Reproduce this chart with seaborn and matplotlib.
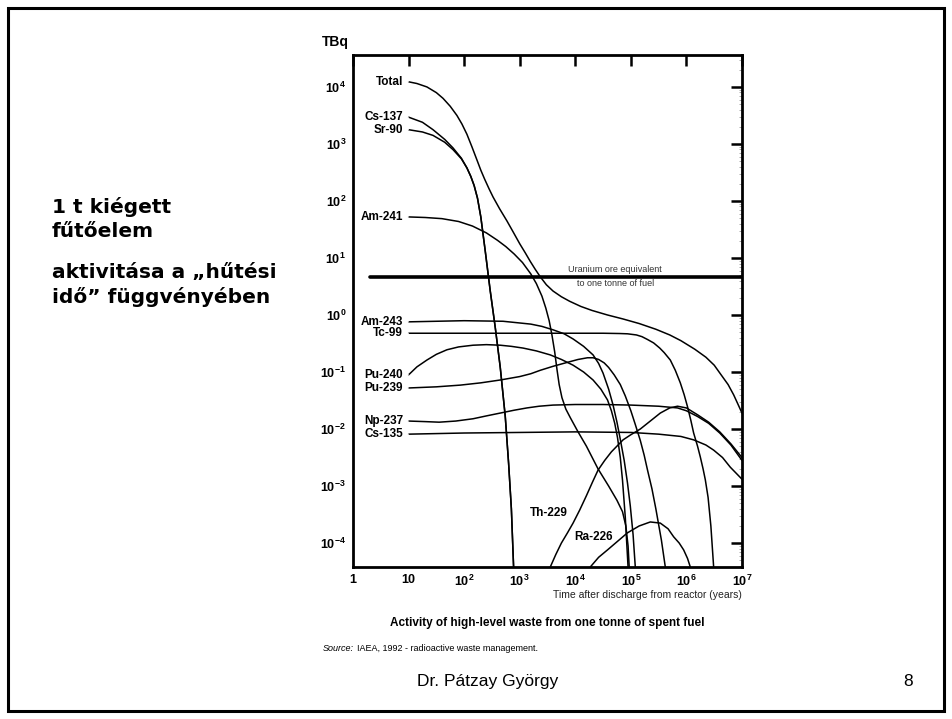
import matplotlib

matplotlib.use("Agg")
import matplotlib.pyplot as plt
import numpy as np
import pandas as pd
import seaborn as sns
from matplotlib.patches import Rectangle
from matplotlib.ticker import FixedLocator, LogLocator, NullLocator

# Values as log10(years) / log10(TBq)
total_lt = [1.0, 1.15, 1.33, 1.5, 1.62, 1.75, 1.87, 1.96, 2.05, 2.14, 2.23, 2.3, 2.37, 2.45, 2.52, 2.64,
            2.77, 2.88, 3.0, 3.1, 3.19, 3.28, 3.37, 3.48, 3.6, 3.75, 3.9, 4.1, 4.3, 4.58, 4.86, 5.15,
            5.45, 5.7, 5.9, 6.15, 6.35, 6.5, 6.61, 6.75, 6.85, 6.93, 7.0]
total_la = [4.09, 4.06, 4.0, 3.9, 3.8, 3.66, 3.5, 3.35, 3.17, 2.95, 2.72, 2.54, 2.38, 2.21, 2.07, 1.86,
            1.65, 1.46, 1.25, 1.09, 0.94, 0.8, 0.67, 0.53, 0.42, 0.32, 0.24, 0.15, 0.08, 0.0, -0.07, -0.15,
            -0.25, -0.35, -0.45, -0.6, -0.74, -0.88, -1.03, -1.22, -1.4, -1.57, -1.72]

cs137_lt = [1.0, 1.25, 1.44, 1.65, 1.8, 1.95, 2.05, 2.12, 2.18, 2.24, 2.3, 2.38, 2.47, 2.56, 2.65, 2.74, 2.8, 2.85, 2.89]
cs137_la = [3.47, 3.38, 3.25, 3.08, 2.93, 2.75, 2.58, 2.43, 2.27, 2.05, 1.72, 1.12, 0.42, -0.22, -0.92, -1.78, -2.6, -3.4, -4.42]

sr90_lt = [1.0, 1.25, 1.44, 1.65, 1.8, 1.95, 2.05, 2.12, 2.18, 2.24, 2.3, 2.38, 2.47, 2.56, 2.65, 2.74, 2.8, 2.85, 2.89]
sr90_la = [3.25, 3.21, 3.15, 3.03, 2.9, 2.74, 2.58, 2.43, 2.27, 2.05, 1.72, 1.12, 0.42, -0.22, -0.92, -1.78, -2.6, -3.4, -4.42]

am241_lt = [1.0, 1.3, 1.6, 1.9, 2.15, 2.4, 2.6, 2.75, 2.9, 3.05, 3.2, 3.3, 3.4, 3.47, 3.53, 3.58, 3.63, 3.67,
            3.71, 3.76, 3.83, 3.91, 4.05, 4.2, 4.41, 4.6, 4.75, 4.85, 4.91, 4.95, 4.97]
am241_la = [1.72, 1.71, 1.69, 1.64, 1.56, 1.44, 1.31, 1.2, 1.07, 0.92, 0.72, 0.55, 0.33, 0.12, -0.1, -0.35, -0.65, -0.95,
            -1.22, -1.45, -1.65, -1.8, -2.05, -2.3, -2.7, -3.0, -3.25, -3.45, -3.7, -4.05, -4.42]

am243_lt = [1.0, 2.0, 2.7, 3.2, 3.4, 3.6, 3.8, 3.96, 4.15, 4.32, 4.42, 4.5, 4.6, 4.68, 4.75, 4.81, 4.88, 4.94, 4.99, 5.04, 5.08]
am243_la = [-0.12, -0.1, -0.11, -0.16, -0.2, -0.26, -0.33, -0.42, -0.55, -0.7, -0.85, -1.02, -1.3, -1.58, -1.88, -2.18,
            -2.55, -2.95, -3.35, -3.85, -4.42]

tc99_lt = [1.0, 3.0, 4.5, 4.8, 4.94, 5.1, 5.2, 5.3, 5.41, 5.52, 5.6, 5.71, 5.8, 5.89, 5.96, 6.02, 6.08, 6.13, 6.2,
           6.25, 6.3, 6.34, 6.39, 6.44, 6.49]
tc99_la = [-0.32, -0.32, -0.32, -0.325, -0.33, -0.35, -0.38, -0.43, -0.49, -0.58, -0.66, -0.79, -0.97, -1.19, -1.4,
           -1.61, -1.85, -2.07, -2.3, -2.49, -2.7, -2.89, -3.2, -3.7, -4.42]

pu240_lt = [1.0, 1.15, 1.33, 1.5, 1.69, 1.9, 2.16, 2.4, 2.65, 2.85, 3.06, 3.3, 3.55, 3.75, 3.96, 4.15, 4.32, 4.46,
            4.58, 4.65, 4.71, 4.76, 4.81, 4.85, 4.9, 4.95]
pu240_la = [-1.05, -0.91, -0.79, -0.69, -0.61, -0.56, -0.53, -0.52, -0.53, -0.55, -0.58, -0.63, -0.7, -0.78, -0.88,
            -1.0, -1.14, -1.3, -1.49, -1.68, -1.9, -2.15, -2.5, -2.9, -3.55, -4.42]

pu239_lt = [1.0, 1.5, 1.93, 2.3, 2.65, 3.0, 3.2, 3.37, 3.6, 3.86, 4.05, 4.22, 4.32, 4.42, 4.52, 4.6, 4.7, 4.81, 4.9,
            5.0, 5.08, 5.17, 5.24, 5.3, 5.38, 5.45, 5.55, 5.62]
pu239_la = [-1.28, -1.26, -1.23, -1.19, -1.14, -1.08, -1.03, -0.97, -0.9, -0.83, -0.78, -0.75, -0.75, -0.78, -0.84,
            -0.92, -1.05, -1.22, -1.42, -1.68, -1.92, -2.2, -2.46, -2.72, -3.05, -3.4, -3.95, -4.42]

np237_lt = [1.0, 1.3, 1.55, 1.85, 2.16, 2.4, 2.65, 2.9, 3.13, 3.35, 3.6, 4.0, 4.5, 5.0, 5.5, 5.84, 6.0, 6.2, 6.4,
            6.6, 6.8, 7.0]
np237_la = [-1.86, -1.87, -1.88, -1.86, -1.82, -1.77, -1.72, -1.67, -1.63, -1.6, -1.58, -1.57, -1.57, -1.58, -1.6,
            -1.63, -1.68, -1.78, -1.9, -2.07, -2.28, -2.55]

cs135_lt = [1.0, 2.0, 3.0, 4.0, 5.0, 5.5, 5.9, 6.13, 6.35, 6.49, 6.65, 6.79, 6.9, 7.0]
cs135_la = [-2.09, -2.07, -2.06, -2.05, -2.06, -2.09, -2.13, -2.19, -2.28, -2.37, -2.5, -2.67, -2.78, -2.88]

th229_lt = [3.55, 3.65, 3.75, 3.86, 3.96, 4.08, 4.2, 4.31, 4.41, 4.53, 4.65, 4.76, 4.86, 5.0, 5.17, 5.35, 5.53,
            5.7, 5.84, 6.0, 6.2, 6.4, 6.6, 6.8, 7.0]
th229_la = [-4.42, -4.2, -4.0, -3.82, -3.65, -3.42, -3.17, -2.93, -2.72, -2.55, -2.4, -2.29, -2.19, -2.1, -2.0,
            -1.86, -1.72, -1.63, -1.6, -1.63, -1.75, -1.88, -2.05, -2.26, -2.5]

ra226_lt = [4.27, 4.42, 4.58, 4.76, 4.94, 5.15, 5.35, 5.53, 5.67, 5.77, 5.87, 5.95, 6.02, 6.07]
ra226_la = [-4.42, -4.25, -4.12, -3.97, -3.82, -3.7, -3.63, -3.65, -3.75, -3.89, -4.0, -4.12, -4.27, -4.42]

uranium_t = [2, 1e7]
uranium_a = [4.6, 4.6]

curves = {
    "Total": (total_lt, total_la),
    "Cs-137": (cs137_lt, cs137_la),
    "Sr-90": (sr90_lt, sr90_la),
    "Am-241": (am241_lt, am241_la),
    "Am-243": (am243_lt, am243_la),
    "Tc-99": (tc99_lt, tc99_la),
    "Pu-240": (pu240_lt, pu240_la),
    "Pu-239": (pu239_lt, pu239_la),
    "Np-237": (np237_lt, np237_la),
    "Cs-135": (cs135_lt, cs135_la),
    "Th-229": (th229_lt, th229_la),
    "Ra-226": (ra226_lt, ra226_la),
}
left_labels = ["Total", "Cs-137", "Sr-90", "Am-241", "Am-243", "Tc-99",
               "Pu-240", "Pu-239", "Np-237", "Cs-135"]

x_ticks = [1, 1e1, 1e2, 1e3, 1e4, 1e5, 1e6, 1e7]
x_ticklabels = ["1", "10", r"$\mathbf{10^{2}}$", r"$\mathbf{10^{3}}$", r"$\mathbf{10^{4}}$",
                r"$\mathbf{10^{5}}$", r"$\mathbf{10^{6}}$", r"$\mathbf{10^{7}}$"]
y_ticks = [1e-4, 1e-3, 1e-2, 1e-1, 1e0, 1e1, 1e2, 1e3, 1e4]
y_ticklabels = [r"$\mathbf{10^{%d}}$" % k for k in range(-4, 5)]

rows = []
for name, (lt, la) in curves.items():
    for x, y in zip(lt, la):
        rows.append({"nuclide": name, "years": 10 ** x, "tbq": 10 ** y})
df = pd.DataFrame(rows)

sns.set_style("white")
plt.rcParams["font.family"] = ["Liberation Sans", "DejaVu Sans"]
plt.rcParams["text.color"] = "black"
plt.rcParams["xtick.color"] = "black"
plt.rcParams["ytick.color"] = "black"
plt.rcParams["mathtext.fontset"] = "custom"
plt.rcParams["mathtext.rm"] = "Liberation Sans"
plt.rcParams["mathtext.bf"] = "Liberation Sans:bold"

fig = plt.figure(figsize=(9.52, 7.19), dpi=100)
ax = fig.add_axes([0.3708, 0.2114, 0.4086, 0.7121])

sns.lineplot(data=df, x="years", y="tbq", units="nuclide", estimator=None,
             color="black", linewidth=1.1, sort=False, legend=False, ax=ax)
ax.plot(uranium_t, uranium_a, color="black", linewidth=2.6)

ax.set_xscale("log")
ax.set_yscale("log")
ax.set_xlim(1, 1e7)
ax.set_ylim(10 ** -4.42, 10 ** 4.56)
ax.set_xlabel("")
ax.set_ylabel("")

ax.xaxis.set_major_locator(FixedLocator(x_ticks))
ax.set_xticklabels(x_ticklabels, fontsize=9, fontweight="bold")
ax.xaxis.set_minor_locator(NullLocator())
ax.yaxis.set_major_locator(FixedLocator(y_ticks))
ax.set_yticklabels(y_ticklabels, fontsize=9)
ax.yaxis.set_minor_locator(LogLocator(base=10, subs=range(2, 10), numticks=20))
ax.tick_params(which="major", direction="in", length=8, width=1.8, top=True, right=True,
               pad=5, colors="black")
ax.tick_params(which="minor", direction="in", length=2.5, width=0.5, left=False, right=True,
               colors="#888888")
for sp in ax.spines.values():
    sp.set_linewidth(2)
    sp.set_color("black")

# nuclide labels at the start of each curve
for name in left_labels:
    lt, la = curves[name]
    ax.annotate(name, xy=(10 ** lt[0], 10 ** la[0]), xytext=(-4, 0), textcoords="offset points",
                ha="right", va="center", fontsize=8.5, fontweight="bold",
                arrowprops=dict(arrowstyle="-", lw=0.8, shrinkA=0, shrinkB=0))
ax.text(10 ** 3.86, 10 ** -3.47, "Th-229", ha="right", va="center", fontsize=8.5, fontweight="bold")
ax.text(10 ** 4.68, 10 ** -3.89, "Ra-226", ha="right", va="center", fontsize=8.5, fontweight="bold")

ax.text(10 ** 4.72, 10 ** 0.79, "Uranium ore equivalent", ha="center", va="center",
        fontsize=6.5, color="#333333")
ax.text(10 ** 4.72, 10 ** 0.56, "to one tonne of fuel", ha="center", va="center",
        fontsize=6.5, color="#333333")

fig.text(0.352, 0.9416, "TBq", ha="center", va="center", fontsize=10, fontweight="bold")
fig.text(0.7794, 0.1725, "Time after discharge from reactor (years)", ha="right", va="center",
         fontsize=7.5, color="#222222")
fig.text(0.5745, 0.1335, "Activity of high-level waste from one tonne of spent fuel",
         ha="center", va="center", fontsize=8.5, fontweight="bold")

src = fig.text(0.339, 0.0987, "Source:", ha="left", va="center", fontsize=6.5, style="italic")
fig.canvas.draw()
bb = src.get_window_extent().transformed(fig.transFigure.inverted())
fig.text(bb.x1 + 0.003, 0.0987, "IAEA, 1992 - radioactive waste management.", ha="left",
         va="center", fontsize=6.5)

fig.text(0.5126, 0.0515, "Dr. Pátzay György", ha="center", va="center", fontsize=12.5)
fig.text(0.954, 0.0515, "8", ha="center", va="center", fontsize=12.5)

left_lines = ["1 t kiégett", "fűtőelem", "aktivitása a „hűtési", "idő” függvényében"]
left_y = [207, 232, 272, 297]
for line, ypx in zip(left_lines, left_y):
    fig.text(0.0546, 1 - ypx / 719, line, ha="left", va="center", fontsize=14.5,
             fontweight="bold", family=["DejaVu Sans"])

fig.patches.append(Rectangle((8 / 952, 8 / 719), 936 / 952, 703 / 719, transform=fig.transFigure,
                             fill=False, edgecolor="black", linewidth=2.2))

fig.savefig("out.png", dpi=100)
